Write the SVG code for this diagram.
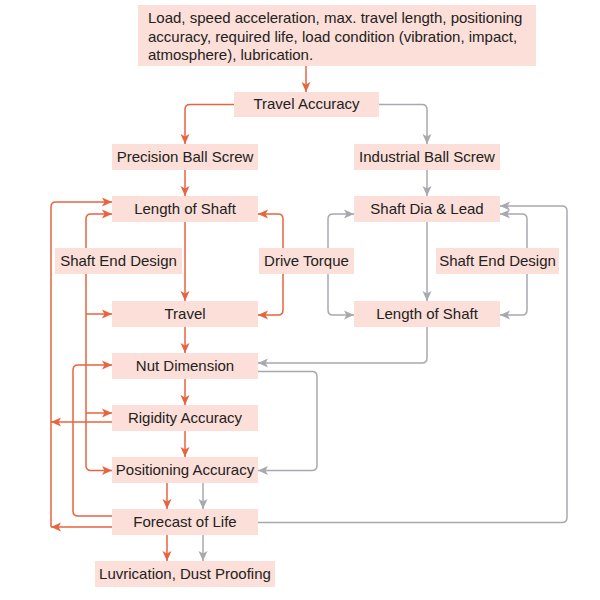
<svg xmlns="http://www.w3.org/2000/svg" width="600" height="600" viewBox="0 0 600 600">
<style>
.box{fill:#fbdfd8}
.t{font-family:"Liberation Sans",Arial,sans-serif;font-size:15px;fill:#222;text-anchor:middle}
.tl{text-anchor:start}
.o{fill:none;stroke:#e8643f;stroke-width:1.5}
.g{fill:none;stroke:#a8a8b0;stroke-width:1.5}
</style>
<defs>
<marker id="ao" viewBox="0 0 10 10" refX="10" refY="5" markerWidth="10" markerHeight="10" markerUnits="userSpaceOnUse" orient="auto"><path d="M0,0.5 L10,5 L0,9.5 L2.5,5 Z" fill="#e8643f"/></marker>
<marker id="ag" viewBox="0 0 10 10" refX="10" refY="5" markerWidth="10" markerHeight="10" markerUnits="userSpaceOnUse" orient="auto"><path d="M0,0.5 L10,5 L0,9.5 L2.5,5 Z" fill="#a8a8b0"/></marker>
</defs>
<rect width="600" height="600" fill="#fff"/>
<g id="connectors">
<path class="o" marker-end="url(#ao)" d="M306,66 V92"/>
<path class="o" marker-end="url(#ao)" d="M234,104.5 H190 Q185,104.5 185,109.5 V144"/>
<path class="g" marker-end="url(#ag)" d="M379,104.5 H422 Q427,104.5 427,109.5 V144"/>
<path class="o" marker-end="url(#ao)" d="M185,170 V196"/>
<path class="g" marker-end="url(#ag)" d="M427,170 V196"/>
<path class="o" marker-end="url(#ao)" d="M185,222 V301"/>
<path class="g" marker-end="url(#ag)" d="M427,222 V301"/>
<path class="o" marker-end="url(#ao)" d="M185,327 V353"/>
<path class="o" marker-end="url(#ao)" d="M185,379 V405"/>
<path class="o" marker-end="url(#ao)" d="M185,431 V457"/>
<path class="o" marker-end="url(#ao)" d="M167,483 V509"/>
<path class="g" marker-end="url(#ag)" d="M203,483 V509"/>
<path class="o" marker-end="url(#ao)" d="M167,535 V561"/>
<path class="g" marker-end="url(#ag)" d="M203,535 V561"/>
<path class="o" marker-end="url(#ao)" d="M112,527 H51"/>
<path class="o" marker-end="url(#ao)" d="M112,422 H51"/>
<path class="o" marker-end="url(#ao)" d="M51,527 V207 Q51,202 56,202 H112"/>
<path class="o" marker-end="url(#ao)" d="M86,261 V219 Q86,214 91,214 H112"/>
<path class="o" marker-end="url(#ao)" d="M86,274 V465.5 Q86,470.5 91,470.5 H112"/>
<path class="o" marker-end="url(#ao)" d="M86,314 H112"/>
<path class="o" marker-end="url(#ao)" d="M86,413 H112"/>
<path class="o" marker-end="url(#ao)" d="M112,516 H78 Q73,516 73,511 V370 Q73,365 78,365 H112"/>
<path class="o" marker-end="url(#ao)" d="M283,248 V219 Q283,214 278,214 H258"/>
<path class="o" marker-end="url(#ao)" d="M283,274 V310 Q283,315 278,315 H258"/>
<path class="g" marker-end="url(#ag)" d="M328,248 V219 Q328,214 333,214 H354"/>
<path class="g" marker-end="url(#ag)" d="M328,274 V310 Q328,315 333,315 H354"/>
<path class="g" marker-end="url(#ag)" d="M527,248 V219 Q527,214 522,214 H500"/>
<path class="g" marker-end="url(#ag)" d="M527,274 V310 Q527,315 522,315 H500"/>
<path class="g" marker-end="url(#ag)" d="M258,522.5 H562 Q567,522.5 567,517.5 V211 Q567,206 562,206 H500"/>
<path class="g" marker-end="url(#ag)" d="M427,327 V358 Q427,363 422,363 H258"/>
<path class="g" marker-end="url(#ag)" d="M258,371.5 H312 Q317,371.5 317,376.5 V465.5 Q317,470.5 312,470.5 H258"/>
</g>
<g id="top"><rect class="box" x="138" y="5" width="398" height="61"/>
<text class="t tl" x="148" y="23">Load, speed acceleration, max. travel length, positioning</text>
<text class="t tl" x="148" y="41.5">accuracy, required life, load condition (vibration, impact,</text>
<text class="t tl" x="148" y="60">atmosphere), lubrication.</text></g>
<g id="travel-accuracy"><rect class="box" x="234" y="92" width="145" height="25"/><text class="t" x="306.5" y="109">Travel Accuracy</text></g>
<g id="precision"><rect class="box" x="112" y="144" width="146" height="26"/><text class="t" x="185" y="161.5">Precision Ball Screw</text></g>
<g id="industrial"><rect class="box" x="354" y="144" width="146" height="26"/><text class="t" x="427" y="161.5">Industrial Ball Screw</text></g>
<g id="length-left"><rect class="box" x="112" y="196" width="146" height="26"/><text class="t" x="185" y="213.5">Length of Shaft</text></g>
<g id="shaft-dia"><rect class="box" x="354" y="196" width="146" height="26"/><text class="t" x="427" y="213.5">Shaft Dia &amp; Lead</text></g>
<g id="sed-left"><rect class="box" x="55" y="248" width="127" height="26"/><text class="t" x="118.5" y="265.5">Shaft End Design</text></g>
<g id="drive-torque"><rect class="box" x="259" y="248" width="95" height="26"/><text class="t" x="306.5" y="265.5">Drive Torque</text></g>
<g id="sed-right"><rect class="box" x="436" y="248" width="123" height="26"/><text class="t" x="497.5" y="265.5">Shaft End Design</text></g>
<g id="travel"><rect class="box" x="112" y="301" width="146" height="26"/><text class="t" x="185" y="318.5">Travel</text></g>
<g id="length-right"><rect class="box" x="354" y="301" width="146" height="26"/><text class="t" x="427" y="318.5">Length of Shaft</text></g>
<g id="nut"><rect class="box" x="112" y="353" width="146" height="26"/><text class="t" x="185" y="370.5">Nut Dimension</text></g>
<g id="rigidity"><rect class="box" x="112" y="405" width="146" height="26"/><text class="t" x="185" y="422.5">Rigidity Accuracy</text></g>
<g id="positioning"><rect class="box" x="112" y="457" width="146" height="26"/><text class="t" x="185" y="474.5">Positioning Accuracy</text></g>
<g id="forecast"><rect class="box" x="112" y="509" width="146" height="26"/><text class="t" x="185" y="526.5">Forecast of Life</text></g>
<g id="lubrication"><rect class="box" x="95" y="561" width="180" height="26"/><text class="t" x="185" y="578.5">Luvrication, Dust Proofing</text></g>
</svg>
